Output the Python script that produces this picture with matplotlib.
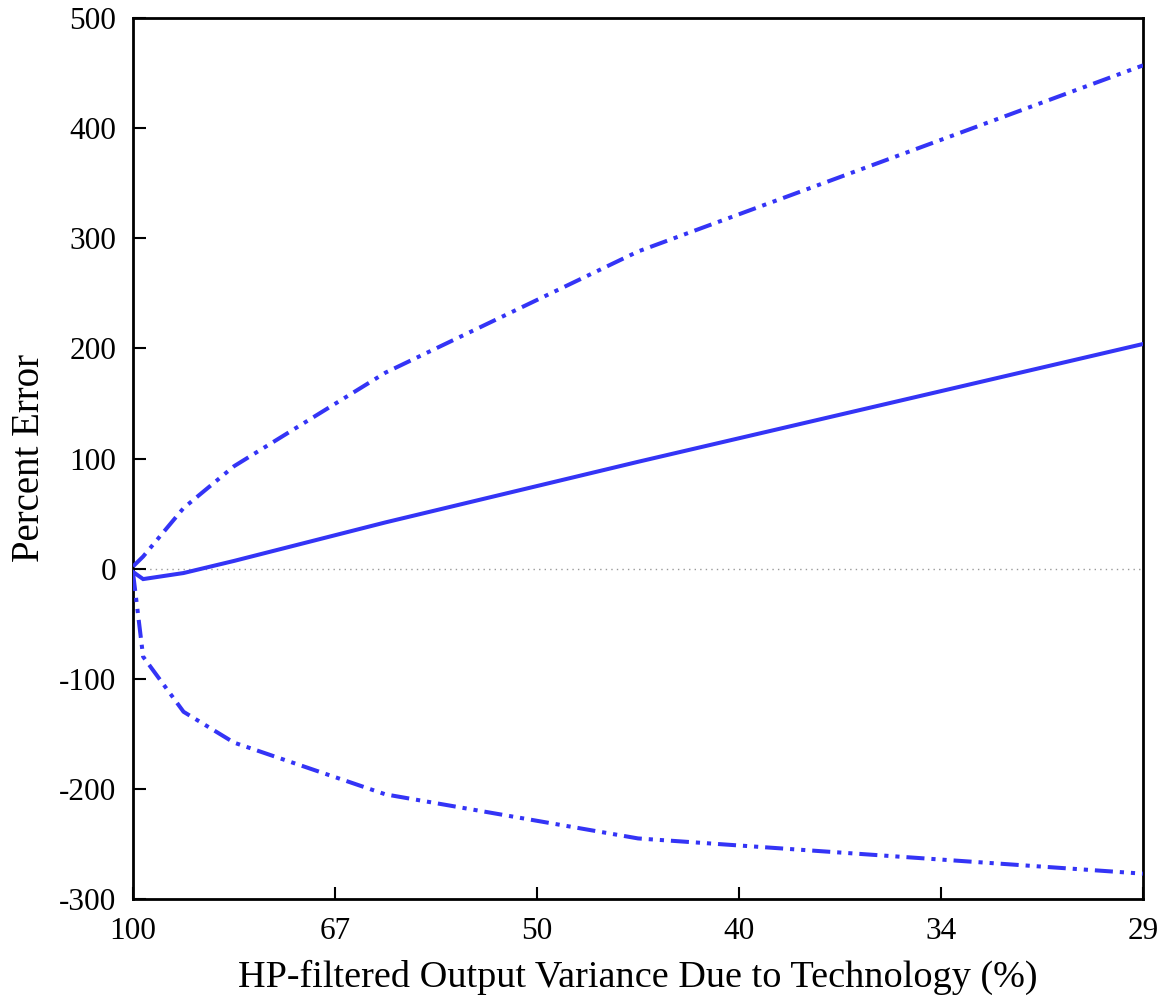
import matplotlib
matplotlib.use("Agg")
import matplotlib.pyplot as plt

# Model parameter grid (evenly spaced axis positions map to variance shares)
param = [0.0, 0.05, 0.25, 0.5, 1.25, 2.5, 5.0]
tick_pos = [0, 1, 2, 3, 4, 5]
tick_labels = ["100", "67", "50", "40", "34", "29"]

# Percent error series
mean_error = [-3, -9.5, -4, 7, 42, 97, 204]
upper_band = [2, 11, 55, 93, 178, 288, 457]
lower_band = [-4, -80, -130, -158, -205, -245, -277]

plt.rcParams["font.family"] = ["Liberation Serif", "DejaVu Serif"]
plt.rcParams["lines.scale_dashes"] = False
plt.rcParams["axes.unicode_minus"] = False

fig = plt.figure(figsize=(11.65, 10.0), dpi=100)
ax = fig.add_axes([0.1142, 0.101, 0.867, 0.881])

blue = "#3434f6"
ddd = (0, (13, 5, 3, 5, 3, 5))
ax.axhline(0, color="#999999", lw=1.0, ls=(0, (1, 3)), zorder=1)
ax.plot(param, mean_error, color=blue, lw=2.9, solid_joinstyle="miter", zorder=3)
ax.plot(param, upper_band, color=blue, lw=2.9, ls=ddd, dash_capstyle="butt", zorder=3)
ax.plot(param, lower_band, color=blue, lw=2.9, ls=ddd, dash_capstyle="butt", zorder=3)

ax.set_xlim(0, 5)
ax.set_ylim(-300, 500)
ax.set_xticks(tick_pos)
ax.set_xticklabels(tick_labels)
ax.set_yticks(range(-300, 501, 100))
ax.tick_params(direction="in", length=9, width=1.5, labelsize=22.5,
               top=False, right=False)
ax.tick_params(axis="x", pad=13)
ax.tick_params(axis="y", pad=12)
for s in ax.spines.values():
    s.set_linewidth(2.0)

ax.set_xlabel("HP-filtered Output Variance Due to Technology (%)", fontsize=27.5, labelpad=10)
ax.set_ylabel("Percent Error", fontsize=28, labelpad=8)

fig.savefig("out.png", dpi=100)
